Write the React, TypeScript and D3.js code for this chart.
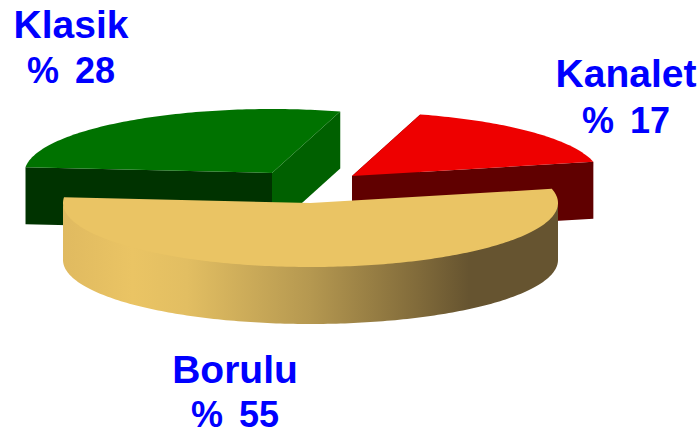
import React from "react";
import * as d3 from "d3";

const categories = ["Kanalet", "Borulu", "Klasik"];
const shares = [17, 55, 28];
const topColors = ["#EE0000", "#EAC464", "#007200"];
const startFaceColors = ["#600000", "#EAC464", "#003300"];
const endFaceColors = ["#600000", "#EAC464", "#006000"];
const sliceCentres: [number, number][] = [[352, 176], [310.5, 203], [272, 173]];
const labelSpots: [number, number, number][] = [[626, 87, 133], [235, 383, 427], [71, 38, 83]];
const drawOrder = [2, 0, 1];

const RX = 247.5, RY = 64, DEPTH = 57;
const START = (16 * Math.PI) / 180;

const arcs = d3.pie<number>().sort(null).startAngle(START).endAngle(START + 2 * Math.PI)(shares);
const line = d3.line();

function project(c: [number, number], a: number, dy = 0): [number, number] {
  return [c[0] + RX * Math.sin(a), c[1] - RY * Math.cos(a) + dy];
}
function rim(c: [number, number], a0: number, a1: number, dy = 0): [number, number][] {
  const n = Math.max(2, Math.ceil((Math.abs(a1 - a0) * 180) / Math.PI));
  return d3.range(n + 1).map((i) => project(c, a0 + ((a1 - a0) * i) / n, dy));
}

export default function App() {
  return (
    <svg width={699} height={431} style={{ position: "absolute", left: 0, top: 0, background: "#fff" }}>
      <defs>
        <linearGradient id="side" gradientUnits="userSpaceOnUse" x1={63} x2={558} y1={0} y2={0}>
          <stop offset="0" stopColor="#E0BA60" />
          <stop offset="0.14" stopColor="#EAC464" />
          <stop offset="0.25" stopColor="#E2BE62" />
          <stop offset="0.5" stopColor="#B59850" />
          <stop offset="0.72" stopColor="#806A3A" />
          <stop offset="0.82" stopColor="#665430" />
          <stop offset="1" stopColor="#665430" />
        </linearGradient>
      </defs>
      {drawOrder.map((i) => {
        const c = sliceCentres[i];
        const { startAngle: a0, endAngle: a1 } = arcs[i];
        const top: [number, number][] = [c, ...rim(c, a0, a1)];
        const startPt = project(c, a0);
        const endPt = project(c, a1);
        const startFace: [number, number][] = [c, startPt, [startPt[0], startPt[1] + DEPTH], [c[0], c[1] + DEPTH]];
        const endFace: [number, number][] = [c, endPt, [endPt[0], endPt[1] + DEPTH], [c[0], c[1] + DEPTH]];
        const visA0 = Math.max(a0, Math.PI / 2);
        const visA1 = Math.min(a1, (3 * Math.PI) / 2);
        const side = visA1 > visA0 ? [...rim(c, visA0, visA1, -2), ...rim(c, visA1, visA0, DEPTH)] : null;
        return (
          <g key={categories[i]}>
            {i !== 1 && <path d={line(startFace) + "Z"} fill={startFaceColors[i]} />}
            {i !== 1 && <path d={line(endFace) + "Z"} fill={endFaceColors[i]} />}
            {side && <path d={line(side as [number, number][]) + "Z"} fill="url(#side)" />}
            <path d={line(top) + "Z"} fill={topColors[i]} />
          </g>
        );
      })}
      {categories.map((name, i) => (
        <g key={name} fill="#0000FF" fontFamily="'Liberation Sans', Arial, sans-serif" fontWeight="bold" textAnchor="middle">
          <text x={labelSpots[i][0]} y={labelSpots[i][1]} fontSize={39}>{name}</text>
          <text x={labelSpots[i][0]} y={labelSpots[i][2]} fontSize={36} wordSpacing={-2} style={{ whiteSpace: "pre" }}>{`%  ${shares[i]}`}</text>
        </g>
      ))}
    </svg>
  );
}
